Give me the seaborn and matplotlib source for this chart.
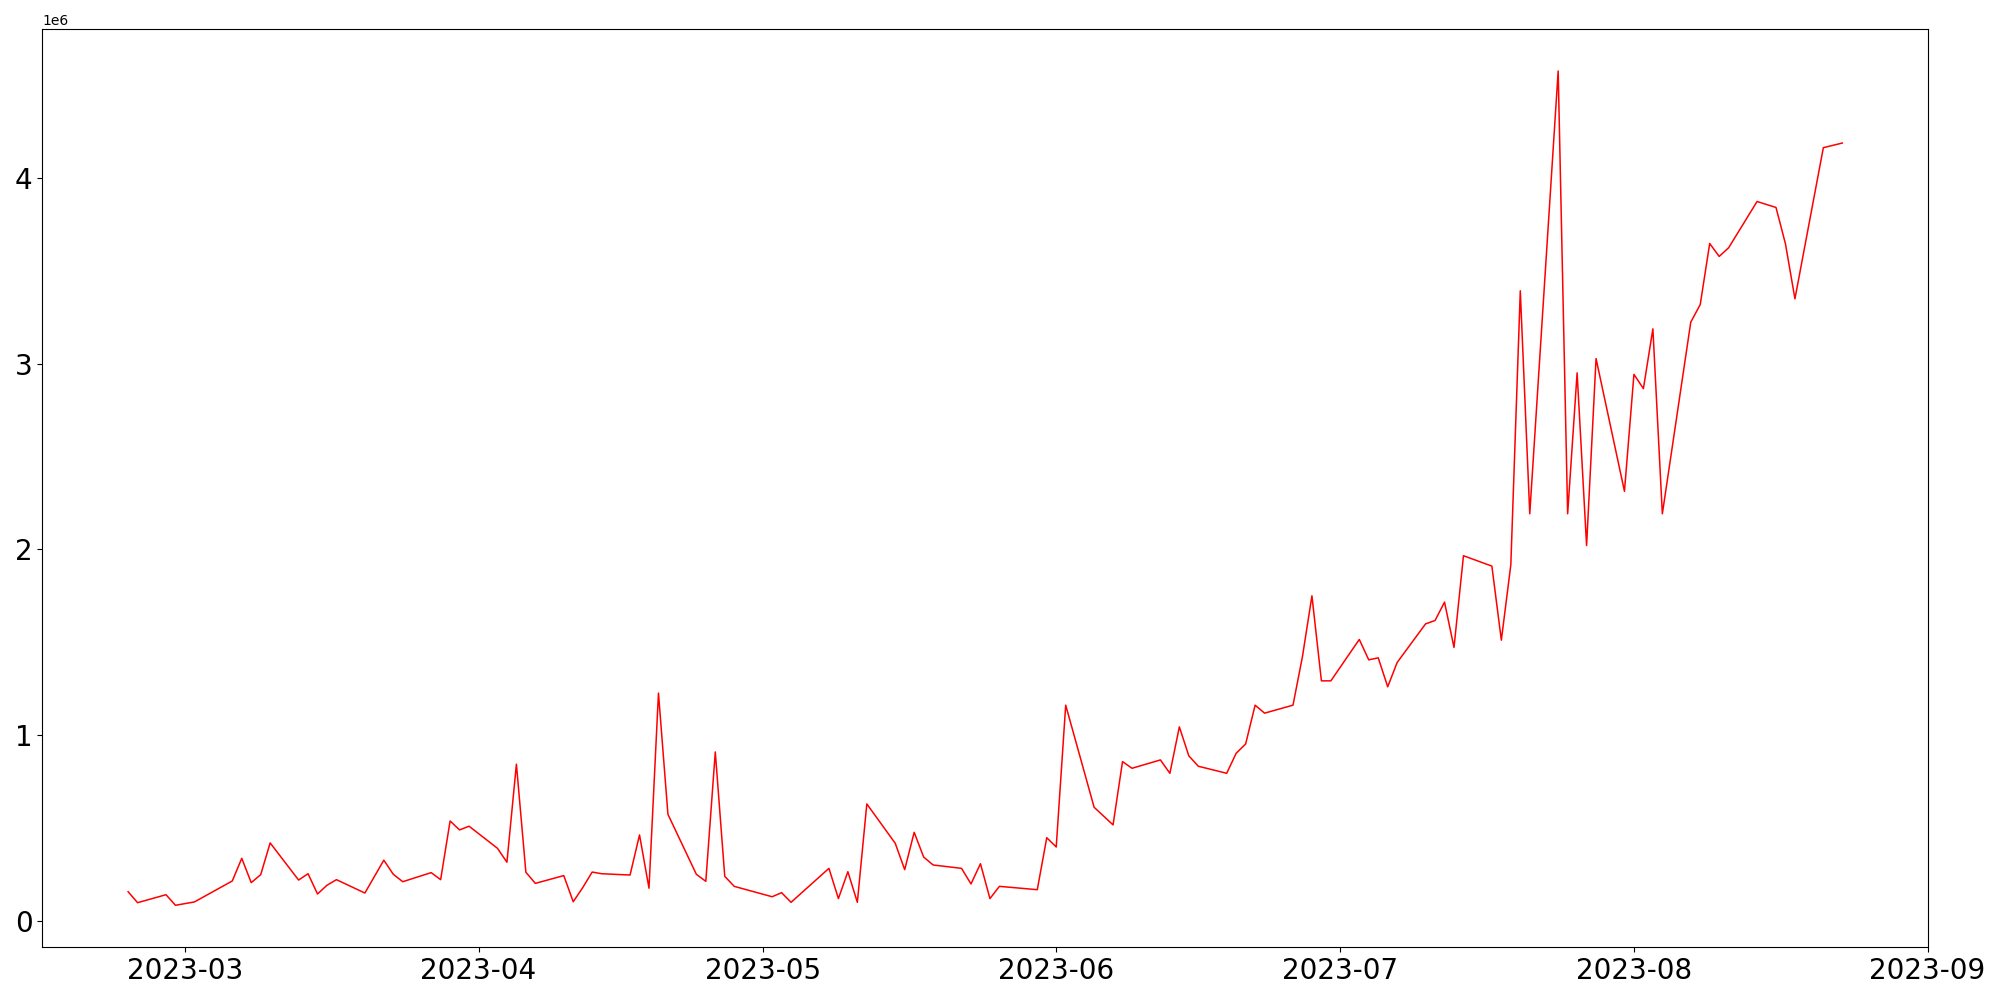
import matplotlib
matplotlib.use("Agg")
import matplotlib.pyplot as plt
import seaborn as sns
import pandas as pd

dates = [
    "2023-02-23", "2023-02-24", "2023-02-27", "2023-02-28", "2023-03-02",
    "2023-03-06", "2023-03-07", "2023-03-08", "2023-03-09", "2023-03-10",
    "2023-03-13", "2023-03-14", "2023-03-15", "2023-03-16", "2023-03-17",
    "2023-03-20", "2023-03-22", "2023-03-23", "2023-03-24",
    "2023-03-27", "2023-03-28", "2023-03-29", "2023-03-30", "2023-03-31",
    "2023-04-03", "2023-04-04", "2023-04-05", "2023-04-06", "2023-04-07",
    "2023-04-10", "2023-04-11", "2023-04-12", "2023-04-13", "2023-04-14",
    "2023-04-17", "2023-04-18", "2023-04-19", "2023-04-20", "2023-04-21",
    "2023-04-24", "2023-04-25", "2023-04-26", "2023-04-27", "2023-04-28",
    "2023-05-02", "2023-05-03", "2023-05-04",
    "2023-05-08", "2023-05-09", "2023-05-10", "2023-05-11", "2023-05-12",
    "2023-05-15", "2023-05-16", "2023-05-17", "2023-05-18", "2023-05-19",
    "2023-05-22", "2023-05-23", "2023-05-24", "2023-05-25", "2023-05-26",
    "2023-05-30", "2023-05-31", "2023-06-01", "2023-06-02",
    "2023-06-05", "2023-06-07", "2023-06-08", "2023-06-09",
    "2023-06-12", "2023-06-13", "2023-06-14", "2023-06-15", "2023-06-16",
    "2023-06-19", "2023-06-20", "2023-06-21", "2023-06-22", "2023-06-23",
    "2023-06-26", "2023-06-27", "2023-06-28", "2023-06-29", "2023-06-30",
    "2023-07-03", "2023-07-04", "2023-07-05", "2023-07-06", "2023-07-07",
    "2023-07-10", "2023-07-11", "2023-07-12", "2023-07-13", "2023-07-14",
    "2023-07-17", "2023-07-18", "2023-07-19", "2023-07-20", "2023-07-21",
    "2023-07-24", "2023-07-25", "2023-07-26", "2023-07-27", "2023-07-28",
    "2023-07-31", "2023-08-01", "2023-08-02", "2023-08-03", "2023-08-04",
    "2023-08-07", "2023-08-08", "2023-08-09", "2023-08-10", "2023-08-11",
    "2023-08-14", "2023-08-16", "2023-08-17", "2023-08-18",
    "2023-08-21", "2023-08-23",
]

# values in millions
values_m = [
    0.155, 0.096, 0.139, 0.082, 0.100,
    0.213, 0.335, 0.204, 0.247, 0.418,
    0.218, 0.252, 0.143, 0.190, 0.220,
    0.148, 0.325, 0.249, 0.209,
    0.258, 0.220, 0.536, 0.488, 0.508,
    0.389, 0.314, 0.842, 0.260, 0.200,
    0.242, 0.101, 0.177, 0.261, 0.252,
    0.245, 0.461, 0.174, 1.225, 0.572,
    0.249, 0.211, 0.908, 0.238, 0.184,
    0.128, 0.150, 0.098,
    0.281, 0.118, 0.263, 0.098, 0.628,
    0.416, 0.274, 0.475, 0.342, 0.299,
    0.281, 0.197, 0.306, 0.118, 0.184,
    0.166, 0.446, 0.396, 1.160,
    0.610, 0.515, 0.856, 0.820,
    0.865, 0.793, 1.043, 0.887, 0.831,
    0.793, 0.901, 0.951, 1.160, 1.117,
    1.160, 1.422, 1.749, 1.291, 1.291,
    1.514, 1.404, 1.415, 1.259, 1.390,
    1.598, 1.616, 1.715, 1.471, 1.965,
    1.909, 1.510, 1.916, 3.392, 2.191,
    4.576, 2.191, 2.950, 2.020, 3.027,
    2.312, 2.942, 2.865, 3.187, 2.191,
    3.223, 3.318, 3.647, 3.577, 3.624,
    3.873, 3.841, 3.645, 3.349,
    4.163, 4.188,
]

df = pd.DataFrame({
    "date": pd.to_datetime(dates),
    "value": [v * 1e6 for v in values_m],
})

fig, ax = plt.subplots(figsize=(20, 10), dpi=100)
fig.subplots_adjust(left=0.0212, right=0.964, top=0.9707, bottom=0.053)

sns.lineplot(data=df, x="date", y="value", color="red", linewidth=1.1, ax=ax)

ax.set_xlabel("")
ax.set_ylabel("")
ax.tick_params(axis="both", labelsize=20)

fig.savefig("out.png", dpi=100)
